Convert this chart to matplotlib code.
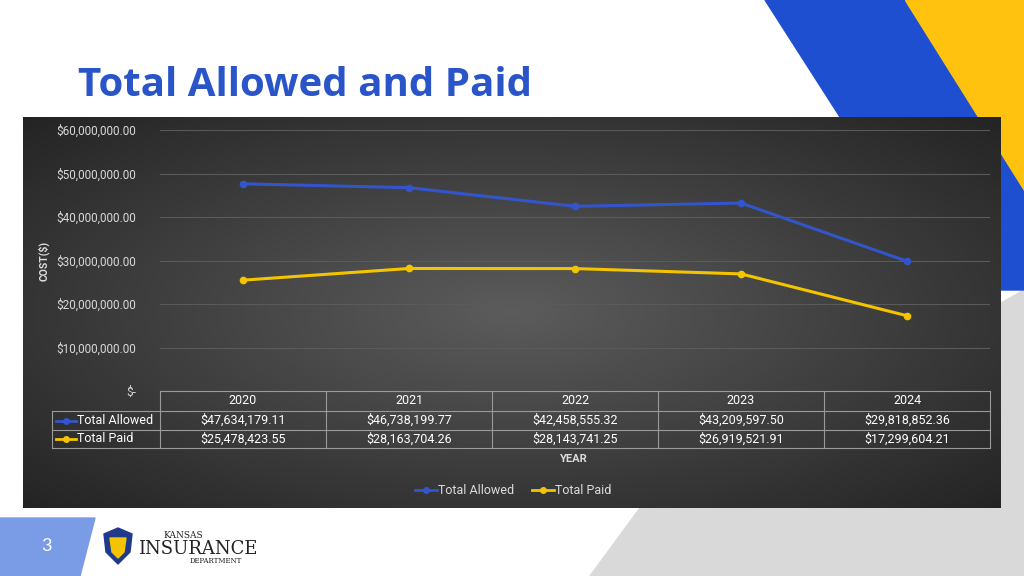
import numpy as np
import matplotlib
matplotlib.use("Agg")
import matplotlib.pyplot as plt
from matplotlib.patches import Polygon

plt.rcParams["font.family"] = "Roboto"

years = ["2020", "2021", "2022", "2023", "2024"]
total_allowed = [47634179.11, 46738199.77, 42458555.32, 43209597.50, 29818852.36]
total_paid = [25478423.55, 28163704.26, 28143741.25, 26919521.91, 17299604.21]
yticks = [0, 10e6, 20e6, 30e6, 40e6, 50e6, 60e6]
series_names = ["Total Allowed", "Total Paid"]
BLUE = "#3355cc"
YEL = "#f5c400"

W, H = 1024, 576
fig = plt.figure(figsize=(10.24, 5.76), dpi=100)
ov = fig.add_axes([0, 0, 1, 1])
ov.set_xlim(0, W); ov.set_ylim(H, 0); ov.axis("off")

# decorations
ov.add_patch(Polygon([(590, 576), (1024, 576), (1024, 290), (640, 508)], closed=True, color="#d9d9d9", zorder=0))
ov.add_patch(Polygon([(765, 0), (905, 0), (1024, 190), (1024, 290), (1001, 290), (840, 117)], closed=True,
                     color="#1f4fd1", zorder=0))
ov.add_patch(Polygon([(905, 0), (1024, 0), (1024, 190)], closed=True, color="#ffc20e", zorder=0))
ov.add_patch(Polygon([(0, 518), (95, 518), (80, 576), (0, 576)], closed=True, color="#7a9be6", zorder=1))
ov.text(46, 546, "3", color="white", fontsize=13, ha="center", va="center", family="Lato")
ov.text(78, 86, "Total Allowed and Paid", color="#2a55c9", fontsize=29, fontweight="bold",
        family="Open Sans", ha="left", va="center")
# logo
ov.add_patch(Polygon([(104, 534), (118, 528), (132, 534), (130, 552), (118, 564), (106, 552)], closed=True,
                     color="#1f3a8a", zorder=2))
ov.add_patch(Polygon([(110, 538), (126, 538), (124, 552), (118, 558), (112, 552)], closed=True,
                     color="#f5c400", zorder=3))
ov.text(163, 536, "KANSAS", fontsize=6.5, family="DejaVu Serif", color="#222", va="center")
ov.text(138, 549, "INSURANCE", fontsize=13, family="DejaVu Serif", color="#222", va="center")
ov.text(190, 561, "DEPARTMENT", fontsize=5, family="DejaVu Serif", color="#222", va="center")

# panel gradient
x0, x1, y0, y1 = 23, 1001, 117, 508
xx, yy = np.meshgrid(np.linspace(-1, 1, 400), np.linspace(-1, 1, 200))
r = np.sqrt(xx**2 + yy**2) / np.sqrt(2)
img = 0.36 - 0.22 * r
ov.imshow(np.dstack([img, img, img]), extent=(x0, x1, y1, y0), aspect="auto", zorder=1)

# plot axes
L, R, T, B = 160, 990, 130, 391
ax = fig.add_axes([L / W, 1 - B / H, (R - L) / W, (B - T) / H])
ax.patch.set_alpha(0)
x = np.arange(len(years))
ax.plot(x, total_allowed, color=BLUE, lw=2.2, marker="o", ms=4.5, zorder=3)
ax.plot(x, total_paid, color=YEL, lw=2.2, marker="o", ms=4.5, zorder=3)
ax.set_xlim(-0.5, len(years) - 0.5)
ax.set_ylim(0, 60e6)
ax.set_yticks(yticks)
ax.set_yticklabels(["$-"] + [f"${v:,.2f}" for v in yticks[1:]], color="#d9d9d9", fontsize=8.5)
ax.tick_params(length=0, pad=17)
ax.set_xticks([])
ax.grid(axis="y", color="#5a5a5a", lw=0.8)
for s in ax.spines.values():
    s.set_visible(False)
ov.text(44, 261, "COST($)", rotation=90, color="#dddddd", fontsize=7.5, fontweight="bold", ha="center", va="center")

# table
lc = "#9a9a9a"
cw = (R - L) / len(years)
rows = [391, 411, 430, 448]
ov.plot([L, R], [rows[0], rows[0]], color=lc, lw=0.8, zorder=4)
for yv in rows[1:]:
    ov.plot([52, R], [yv, yv], color=lc, lw=0.8, zorder=4)
for i in range(len(years) + 1):
    ov.plot([L + i * cw] * 2, [rows[0], rows[3]], color=lc, lw=0.8, zorder=4)
ov.plot([52, 52], [rows[1], rows[3]], color=lc, lw=0.8, zorder=4)
for i, yr in enumerate(years):
    cx = L + (i + 0.5) * cw
    ov.text(cx, 401, yr, color="white", fontsize=9, ha="center", va="center", zorder=5)
    ov.text(cx, 420.5, f"${total_allowed[i]:,.2f}", color="white", fontsize=9, ha="center", va="center", zorder=5)
    ov.text(cx, 439, f"${total_paid[i]:,.2f}", color="white", fontsize=9, ha="center", va="center", zorder=5)
for name, col, yv in [(series_names[0], BLUE, 420.5), (series_names[1], YEL, 439)]:
    ov.plot([56, 76], [yv, yv], color=col, lw=2, zorder=5)
    ov.plot([66], [yv], "o", color=col, ms=4, zorder=5)
    ov.text(77, yv, name, color="white", fontsize=9, va="center", zorder=5)
ov.text(574, 459, "YEAR", color="#dddddd", fontsize=8, fontweight="bold", ha="center", va="center", zorder=5)

# legend
for name, col, lx in [(series_names[0], BLUE, 415), (series_names[1], YEL, 532)]:
    ov.plot([lx, lx + 22], [490, 490], color=col, lw=2, zorder=5)
    ov.plot([lx + 11], [490], "o", color=col, ms=4, zorder=5)
    ov.text(lx + 23, 490, name, color="#dddddd", fontsize=9, va="center", zorder=5)

fig.savefig("out.png", dpi=100)
